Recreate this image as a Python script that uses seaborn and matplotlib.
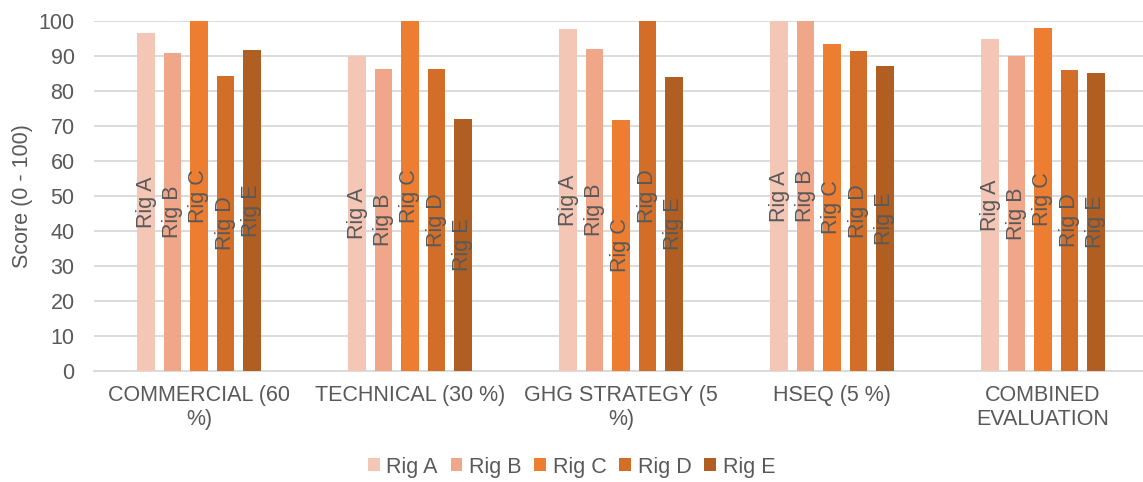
import matplotlib
matplotlib.use("Agg")
import matplotlib.pyplot as plt
import seaborn as sns
import pandas as pd

# Evaluation criteria (x-axis categories) and the rigs being scored
categories = ["COMMERCIAL (60\n%)", "TECHNICAL (30 %)", "GHG STRATEGY (5\n%)",
              "HSEQ (5 %)", "COMBINED\nEVALUATION"]
rigs = ["Rig A", "Rig B", "Rig C", "Rig D", "Rig E"]

# Scores (0 - 100) per rig, one value per category
rig_a = [96.6, 90.0, 97.6, 100.0, 94.8]
rig_b = [90.9, 86.3, 92.0, 100.0, 90.0]
rig_c = [100.0, 100.0, 71.7, 93.5, 98.1]
rig_d = [84.3, 86.4, 100.0, 91.4, 86.1]
rig_e = [91.6, 71.9, 84.1, 87.2, 85.1]

colors = ["#F4C6B5", "#F0A688", "#ED7D31", "#D36E29", "#B15E22"]
text_color = "#595959"
grid_color = "#D9D9D9"
fs = 15.5

scores = [rig_a, rig_b, rig_c, rig_d, rig_e]
df = pd.DataFrame(
    [(cat, rig, val) for rig, vals in zip(rigs, scores) for cat, val in zip(categories, vals)],
    columns=["category", "rig", "score"],
)

sns.set_theme(style="white")
plt.rcParams["font.family"] = ["Liberation Sans", "DejaVu Sans"]

fig = plt.figure(figsize=(11.43, 4.82), dpi=100)
ax = fig.add_axes([94 / 1143, 1 - 371 / 482, 1 - 94 / 1143, (371 - 21) / 482])

sns.barplot(data=df, x="category", y="score", hue="rig", order=categories,
            hue_order=rigs, palette=colors, width=0.625, gap=0.333,
            linewidth=0, saturation=1, ax=ax, zorder=3)

# Series name written vertically in the middle of each bar
for container, rig in zip(ax.containers, rigs):
    ax.bar_label(container, labels=[rig] * len(container), label_type="center",
                 rotation=90, color=text_color, fontsize=fs, zorder=4)

ax.set_ylim(0, 100)
ax.set_yticks(range(0, 101, 10))
ax.set_xlim(-0.4976, 4.474)
ax.yaxis.grid(True, color=grid_color, linewidth=1.3, zorder=0)
ax.set_axisbelow(True)
for side in ["top", "right", "left"]:
    ax.spines[side].set_visible(False)
ax.spines["bottom"].set_color(grid_color)
ax.spines["bottom"].set_linewidth(1.3)

ax.tick_params(axis="both", length=0, colors=text_color, labelsize=fs)
ax.tick_params(axis="y", pad=14)
ax.tick_params(axis="x", pad=10)
ax.set_xlabel("")
ax.set_ylabel("Score (0 - 100)", color=text_color, fontsize=fs)
ax.yaxis.set_label_coords(-0.058, 0.5)

handles, labels = ax.get_legend_handles_labels()
ax.get_legend().remove()
fig.legend(handles, labels, loc="center", bbox_to_anchor=(0.5, 1 - 467 / 482),
           ncol=5, frameon=False, handlelength=0.55, handleheight=0.55,
           handletextpad=0.3, columnspacing=0.6, fontsize=fs,
           labelcolor=text_color)

fig.savefig("out.png", dpi=100)
